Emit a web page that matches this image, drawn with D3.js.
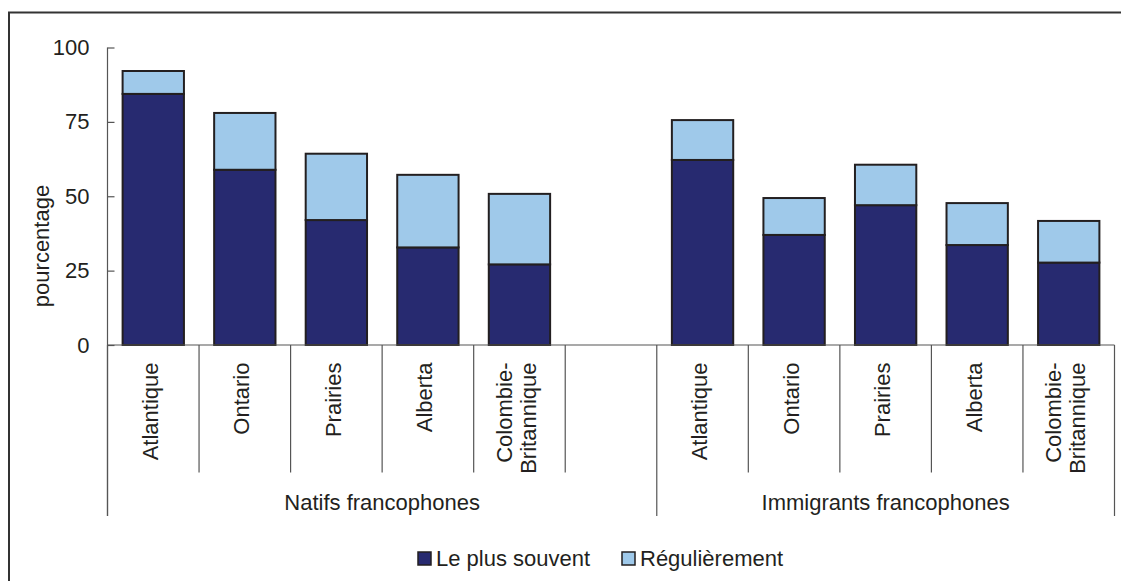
<!DOCTYPE html>
<html>
<head>
<meta charset="utf-8">
<script src="https://cdn.jsdelivr.net/npm/d3@7"></script>
<style>
  html, body { margin: 0; padding: 0; background: #fff; }
  svg { display: block; font-family: "Liberation Sans", Arial, sans-serif; }
</style>
</head>
<body>
<svg id="chart" width="1121" height="581"></svg>
<script>
// ---- data ----
const regions = ["Atlantique", "Ontario", "Prairies", "Alberta", "Colombie-Britannique"];
const regionLines = [["Atlantique"], ["Ontario"], ["Prairies"], ["Alberta"], ["Colombie-", "Britannique"]];
const groups = ["Natifs francophones", "Immigrants francophones"];
const series = ["Le plus souvent", "Régulièrement"];
const natifsLePlusSouvent = [84.4, 58.9, 42.0, 32.8, 27.1];
const natifsRegulierement = [7.7, 19.1, 22.3, 24.4, 23.7];
const immigrantsLePlusSouvent = [62.2, 37.0, 47.0, 33.6, 27.7];
const immigrantsRegulierement = [13.4, 12.4, 13.6, 14.1, 14.0];
const yTicks = [0, 25, 50, 75, 100];
const yLabel = "pourcentage";

const colors = ["#272A70", "#9FC9EA"];
const FS = 22;

// ---- build rows ----
const slots = [];
regions.forEach((r, i) => slots.push({ key: "N" + i, group: 0, idx: i, vals: [natifsLePlusSouvent[i], natifsRegulierement[i]] }));
slots.push({ key: "gap", group: -1 });
regions.forEach((r, i) => slots.push({ key: "I" + i, group: 1, idx: i, vals: [immigrantsLePlusSouvent[i], immigrantsRegulierement[i]] }));

const svg = d3.select("#chart");

// frame
svg.append("path")
  .attr("d", "M9,590V12.5H1130")
  .attr("fill", "none").attr("stroke", "#333").attr("stroke-width", 2);

const x = d3.scaleBand().domain(slots.map(d => d.key)).range([107.5, 1114.5]).paddingInner(0).paddingOuter(0);
const y = d3.scaleLinear().domain([0, 100]).range([345, 47.5]);
const barW = x.bandwidth() * 0.67;

// y axis
const yAxis = svg.append("g").attr("transform", "translate(107.5,0)")
  .call(d3.axisLeft(y).tickValues(yTicks).tickSizeInner(-7).tickSizeOuter(0).tickPadding(18));
yAxis.select(".domain").remove();
yAxis.selectAll(".tick line").attr("stroke", "#555").attr("stroke-width", 1.2);
yAxis.selectAll(".tick text").attr("font-size", FS).attr("fill", "#231F20")
  .attr("font-family", "Liberation Sans, Arial, sans-serif");

// vertical axis line extended down to group separators
svg.append("line").attr("x1", 107.5).attr("x2", 107.5).attr("y1", y(100)).attr("y2", 516)
  .attr("stroke", "#555").attr("stroke-width", 1.2);

// y label
svg.append("text")
  .attr("transform", "translate(49,246) rotate(-90)")
  .attr("text-anchor", "middle").attr("font-size", FS).attr("fill", "#231F20")
  .text(yLabel);

// bars
const stackRows = slots.filter(d => d.group >= 0);
const bars = svg.append("g");
stackRows.forEach(d => {
  let base = 0;
  d.vals.forEach((v, si) => {
    bars.append("rect")
      .attr("x", x(d.key) + (x.bandwidth() - barW) / 2)
      .attr("width", barW)
      .attr("y", y(base + v))
      .attr("height", y(base) - y(base + v))
      .attr("fill", colors[si])
      .attr("stroke", "#231F20").attr("stroke-width", 2);
    base += v;
  });
});

// x axis line
svg.append("line").attr("x1", 107.5).attr("x2", 1114.5).attr("y1", 345).attr("y2", 345)
  .attr("stroke", "#555").attr("stroke-width", 1.2);

// slot boundary ticks
const boundaries = slots.map(d => ({ xv: x(d.key), key: d.key })).concat([{ xv: x.range()[1], key: "end" }]);
svg.append("g").selectAll("line").data(boundaries).join("line")
  .attr("x1", d => d.xv).attr("x2", d => d.xv)
  .attr("y1", 345)
  .attr("y2", d => (d.key === "N0" || d.key === "I0" || d.key === "end") ? 516 : 472.5)
  .attr("stroke", "#555").attr("stroke-width", 1.2);

// region labels
const lab = svg.append("g");
stackRows.forEach(d => {
  const lines = regionLines[d.idx];
  const cx = x(d.key) + x.bandwidth() / 2 + 4.5;
  const n = lines.length;
  lines.forEach((t, li) => {
    const off = (li - (n - 1) / 2) * 23.6;
    lab.append("text")
      .attr("transform", `translate(${cx + off},362.5) rotate(-90)`)
      .attr("text-anchor", "end").attr("font-size", FS).attr("fill", "#231F20")
      .text(t);
  });
});

// group labels
const groupSpans = [[x("N0"), x("I0")], [x("I0"), x.range()[1]]];
groups.forEach((g, i) => {
  svg.append("text")
    .attr("x", (groupSpans[i][0] + groupSpans[i][1]) / 2)
    .attr("y", 510)
    .attr("text-anchor", "middle").attr("font-size", FS).attr("fill", "#231F20")
    .text(g);
});

// legend
const legX = [418, 622];
series.forEach((s, i) => {
  svg.append("rect").attr("x", legX[i]).attr("y", 552).attr("width", 13).attr("height", 13)
    .attr("fill", colors[i]).attr("stroke", "#231F20").attr("stroke-width", 1.5);
  svg.append("text").attr("x", legX[i] + 18).attr("y", 566)
    .attr("font-size", FS).attr("fill", "#231F20").text(s);
});
</script>
</body>
</html>
